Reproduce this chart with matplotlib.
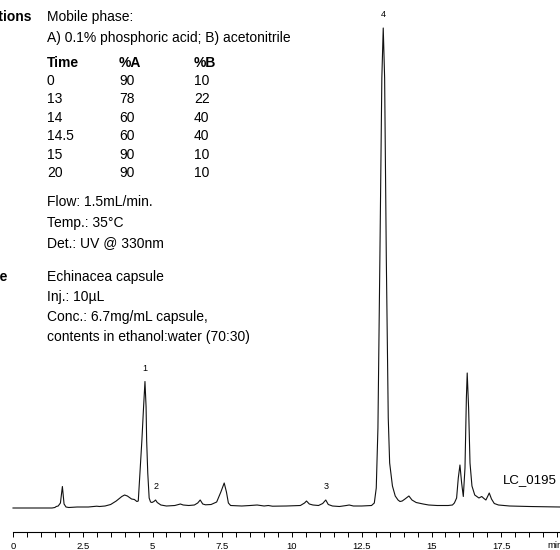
import matplotlib
matplotlib.use('Agg')
import matplotlib.pyplot as plt
import numpy as np

plt.rcParams['font.family'] = ['Liberation Sans', 'DejaVu Sans']

# chromatogram trace (time in min, detector response)
times = [0.0, 1.40, 1.50, 1.55, 1.62, 1.70, 1.77, 1.83, 1.90, 2.0, 2.3, 2.7, 3.0, 3.1, 3.3,
         3.5, 3.7, 3.9, 4.0, 4.1, 4.25, 4.35, 4.44, 4.49, 4.55, 4.62, 4.68, 4.73, 4.77,
         4.79, 4.83, 4.88, 4.93, 4.98, 5.05, 5.11, 5.17, 5.3, 5.5, 5.8, 6.0, 6.1, 6.3,
         6.5, 6.62, 6.71, 6.8, 6.9, 7.1, 7.3, 7.45, 7.57, 7.65, 7.72, 7.8, 8.2, 8.5,
         8.75, 9.0, 9.15, 9.3, 9.8, 10.3, 10.45, 10.52, 10.62, 10.75, 10.95, 11.1,
         11.21, 11.3, 11.45, 11.7, 11.95, 12.05, 12.2, 12.5, 12.85, 12.95, 13.02,
         13.08, 13.15, 13.22, 13.27, 13.32, 13.38, 13.45, 13.5, 13.6, 13.7, 13.8,
         13.87, 13.95, 14.05, 14.19, 14.3, 14.45, 14.7, 14.9, 15.2, 15.6, 15.75,
         15.82, 15.9, 15.96, 16.02, 16.08, 16.14, 16.2, 16.25, 16.28, 16.33, 16.38,
         16.45, 16.55, 16.7, 16.8, 16.88, 16.95, 17.02, 17.07, 17.15, 17.25, 17.4,
         17.8, 18.5, 19.6]
signal = [0, 0, 0.5, 1.5, 2, 5, 21.5, 4, 1, 0.5, 1, 1, 1.8, 1.5, 2,
          3.5, 7, 11.5, 13, 12, 9, 8.5, 6.5, 7, 35, 68, 101, 126.5, 101,
          68, 35, 10, 6, 5.5, 6.5, 8, 5.5, 3, 2, 2.5, 4, 3, 2.5,
          3, 5, 8, 4, 3.2, 3.5, 6, 16, 25, 16, 5, 2.5, 2, 2.5,
          3, 2, 2.5, 1.8, 2, 2.5, 5, 7, 4, 3, 2.5, 4.5,
          8, 3.5, 2, 1.5, 2.5, 3, 2, 2, 2.5, 5, 20,
          80, 250, 430, 480, 430, 250, 90, 45, 22, 12, 8,
          6.5, 7, 9, 12, 8, 5.5, 4, 3, 2.5, 2.5, 3,
          5, 10, 30, 43, 25, 11.5, 40, 110, 135, 100, 45,
          22, 13, 10, 11.5, 9.5, 8, 12, 15, 9, 4.5, 3,
          2, 1.5, 1]

peak_names = ['1', '2', '3', '4']
peak_times = [4.73, 5.11, 11.21, 13.27]
peak_heights = [126.5, 8, 8, 480]

grad_time = ['0', '13', '14', '14.5', '15', '20']
grad_a = ['90', '78', '60', '60', '90', '90']
grad_b = ['10', '22', '40', '40', '10', '10']

W, H = 560, 550


def fx(px):
    return px / W


def fy(py):
    return 1 - py / H


fig = plt.figure(figsize=(W / 100, H / 100), dpi=100)
ax = fig.add_axes([0, 0, 1, 1])
ax.patch.set_alpha(0)

ax.plot(times, signal, color='#111111', lw=0.8)

for s in ['left', 'right', 'top']:
    ax.spines[s].set_visible(False)
ax.spines['bottom'].set_position(('data', -24))
ax.spines['bottom'].set_bounds(0, 25)
ax.spines['bottom'].set_linewidth(0.8)
ax.set_yticks([])
ax.set_xticks([0, 2.5, 5, 7.5, 10, 12.5, 15, 17.5])
ax.set_xticklabels(['0', '2.5', '5', '7.5', '10', '12.5', '15', '17.5'])
ax.set_xticks(np.arange(0, 20.01, 0.5), minor=True)
ax.tick_params(axis='x', which='both', direction='out', length=3.5, width=0.7,
               labelsize=6.8, pad=4)

# limits after ticks, so the ticks do not widen the view
ax.set_xlim(-13 / 27.9, (W - 13) / 27.9)
ax.set_ylim(-42, 508)

ax.text(19.15, -37, 'min', fontsize=6.8, ha='left', va='center')

for name, t, h in zip(peak_names, peak_times, peak_heights):
    ax.annotate(name, (t, h), xytext=(0, 9.5), textcoords='offset points',
                ha='center', va='center', fontsize=6.5)

fig.text(fx(503), fy(480), 'LC_0195', fontsize=9.5, ha='left', va='center')

# conditions block
fs = 10
fig.text(fx(-41), fy(17), 'Conditions', fontsize=fs, fontweight='bold', va='center')
fig.text(fx(47), fy(17), 'Mobile phase:', fontsize=fs, va='center')
fig.text(fx(47), fy(38), 'A) 0.1% phosphoric acid; B) acetonitrile', fontsize=fs, va='center')
fig.text(fx(47), fy(63), 'Time', fontsize=fs, fontweight='bold', va='center')
fig.text(fx(119), fy(63), '%A', fontsize=fs, fontweight='bold', va='center')
fig.text(fx(194), fy(63), '%B', fontsize=fs, fontweight='bold', va='center')
for i, (t, a, b) in enumerate(zip(grad_time, grad_a, grad_b)):
    y = 81 + i * 18.4
    fig.text(fx(47), fy(y), t, fontsize=fs, va='center')
    fig.text(fx(119), fy(y), a, fontsize=fs, va='center')
    fig.text(fx(194), fy(y), b, fontsize=fs, va='center')

cond = ['Flow: 1.5mL/min.', 'Temp.: 35\u00b0C', 'Det.: UV @ 330nm']
for i, line in enumerate(cond):
    fig.text(fx(47), fy(202 + i * 20.5), line, fontsize=fs, va='center')

fig.text(fx(-41), fy(277), 'Sample', fontsize=fs, fontweight='bold', va='center')
sample = ['Echinacea capsule', 'Inj.: 10\u00b5L', 'Conc.: 6.7mg/mL capsule,',
          'contents in ethanol:water (70:30)']
for i, line in enumerate(sample):
    fig.text(fx(47), fy(277 + i * 20), line, fontsize=fs, va='center')

fig.savefig('out.png', dpi=100)
